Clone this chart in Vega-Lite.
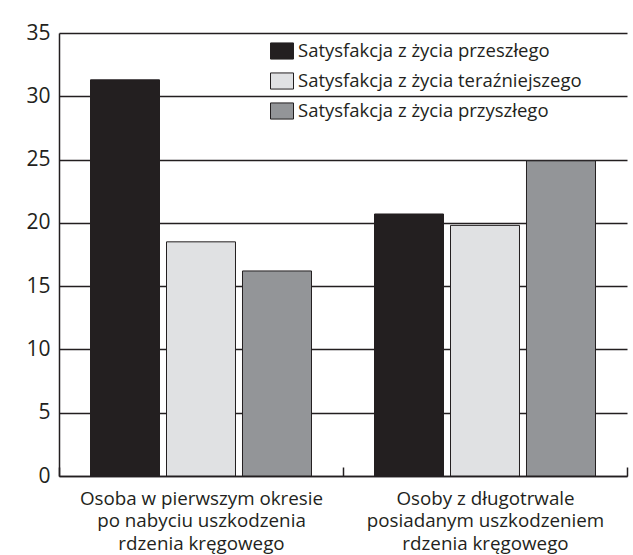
{
  "$schema": "https://vega.github.io/schema/vega-lite/v6.json",
  "width": 568,
  "height": 443,
  "autosize": {"type": "none"},
  "padding": {"left": 59, "top": 33, "right": 6, "bottom": 79},
  "background": "white",
  "data": {
    "values": [
      {"grupa": "Osoba w pierwszym okresie|po nabyciu uszkodzenia|rdzenia kręgowego", "typ": "Satysfakcja z życia przeszłego", "wartosc": 31.3},
      {"grupa": "Osoba w pierwszym okresie|po nabyciu uszkodzenia|rdzenia kręgowego", "typ": "Satysfakcja z życia teraźniejszego", "wartosc": 18.5},
      {"grupa": "Osoba w pierwszym okresie|po nabyciu uszkodzenia|rdzenia kręgowego", "typ": "Satysfakcja z życia przyszłego", "wartosc": 16.2},
      {"grupa": "Osoby z długotrwale|posiadanym uszkodzeniem|rdzenia kręgowego", "typ": "Satysfakcja z życia przeszłego", "wartosc": 20.7},
      {"grupa": "Osoby z długotrwale|posiadanym uszkodzeniem|rdzenia kręgowego", "typ": "Satysfakcja z życia teraźniejszego", "wartosc": 19.8},
      {"grupa": "Osoby z długotrwale|posiadanym uszkodzeniem|rdzenia kręgowego", "typ": "Satysfakcja z życia przyszłego", "wartosc": 24.9}
    ]
  },
  "mark": {"type": "bar", "stroke": "#231f20", "strokeWidth": 1},
  "encoding": {
    "x": {
      "field": "grupa",
      "type": "nominal",
      "sort": ["Osoba w pierwszym okresie|po nabyciu uszkodzenia|rdzenia kręgowego", "Osoby z długotrwale|posiadanym uszkodzeniem|rdzenia kręgowego"],
      "scale": {"paddingInner": 0, "paddingOuter": 0},
      "axis": {
        "title": null,
        "labelExpr": "split(datum.label, '|')",
        "labelAngle": 0,
        "labelFont": "Open Sans",
        "labelFontSize": 18.8,
        "labelColor": "#231f20",
        "labelLineHeight": 22.5,
        "labelLimit": 0,
        "labelPadding": 22,
        "tickBand": "extent",
        "tickSize": -9,
        "tickColor": "#231f20",
        "tickWidth": 1.5,
        "domainColor": "#231f20",
        "domainWidth": 1.5
      }
    },
    "xOffset": {
      "field": "typ",
      "sort": ["Satysfakcja z życia przeszłego", "Satysfakcja z życia teraźniejszego", "Satysfakcja z życia przyszłego"],
      "scale": {"paddingInner": 0.0921, "paddingOuter": 0.4145}
    },
    "y": {
      "field": "wartosc",
      "type": "quantitative",
      "scale": {"domain": [0, 35], "nice": false},
      "axis": {
        "title": null,
        "values": [0, 5, 10, 15, 20, 25, 30, 35],
        "grid": true,
        "gridColor": "#231f20",
        "gridWidth": 1.5,
        "gridOpacity": 1,
        "ticks": false,
        "domainColor": "#231f20",
        "domainWidth": 1.5,
        "labelFont": "Open Sans",
        "labelFontSize": 21,
        "labelColor": "#231f20",
        "labelPadding": 9
      }
    },
    "color": {
      "field": "typ",
      "type": "nominal",
      "scale": {
        "domain": ["Satysfakcja z życia przeszłego", "Satysfakcja z życia teraźniejszego", "Satysfakcja z życia przyszłego"],
        "range": ["#231f20", "#e0e1e3", "#939598"]
      },
      "legend": {
        "title": null,
        "orient": "none",
        "legendX": 211,
        "legendY": 6,
        "padding": 0,
        "symbolType": "M-1,-0.7H1V0.7H-1Z",
        "symbolSize": 529,
        "symbolStrokeColor": "#231f20",
        "symbolStrokeWidth": 1,
        "symbolOpacity": 1,
        "labelFont": "Open Sans",
        "labelFontSize": 18.5,
        "labelColor": "#231f20",
        "labelOffset": 4,
        "labelLimit": 0,
        "rowPadding": 7
      }
    }
  },
  "config": {"view": {"stroke": null}}
}
